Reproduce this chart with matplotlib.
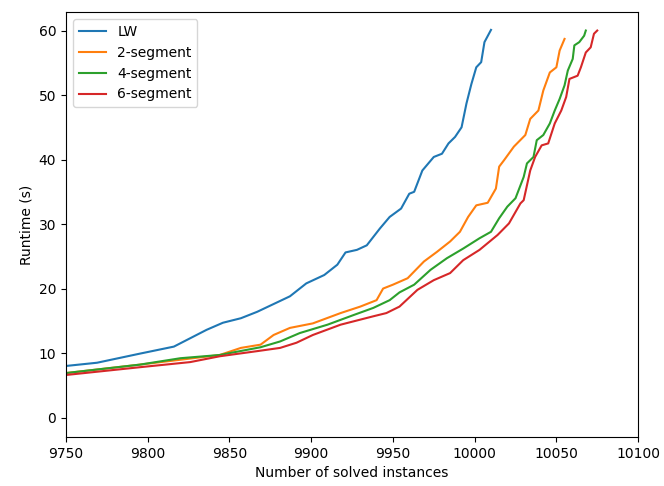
import matplotlib
matplotlib.use("Agg")
import matplotlib.pyplot as plt

lw_x = [9750, 9769, 9795, 9816, 9826, 9836, 9846, 9857, 9867, 9877, 9887, 9897, 9908, 9916,
        9921, 9928, 9934, 9942, 9948, 9955, 9960, 9963, 9968, 9975, 9980, 9984, 9988, 9992,
        9995, 9998, 10001, 10004, 10006, 10010]
lw_y = [8.0, 8.5, 9.9, 11.0, 12.3, 13.6, 14.7, 15.4, 16.4, 17.6, 18.8, 20.8, 22.1, 23.7,
        25.6, 26.0, 26.7, 29.3, 31.1, 32.4, 34.7, 35.0, 38.3, 40.4, 40.9, 42.5, 43.5, 45.0,
        48.7, 51.7, 54.3, 55.1, 58.2, 60.1]

seg2_x = [9750, 9795, 9844, 9857, 9869, 9877, 9887, 9901, 9918, 9930, 9940, 9944, 9950, 9959,
          9969, 9977, 9985, 9991, 9996, 10001, 10008, 10013, 10015, 10018, 10024, 10031, 10034,
          10039, 10042, 10046, 10050, 10052, 10055]
seg2_y = [6.9, 8.2, 9.7, 10.8, 11.3, 12.8, 13.9, 14.6, 16.2, 17.2, 18.2, 20.0, 20.6, 21.6,
          24.2, 25.7, 27.3, 28.8, 31.1, 32.9, 33.3, 35.5, 38.9, 39.9, 42.0, 43.8, 46.3,
          47.6, 50.7, 53.5, 54.3, 56.9, 58.7]

seg4_x = [9750, 9795, 9820, 9844, 9869, 9881, 9893, 9910, 9926, 9938, 9948, 9954, 9963, 9973,
          9983, 9993, 10003, 10010, 10015, 10020, 10025, 10030, 10032, 10036, 10038, 10042,
          10046, 10049, 10052, 10055, 10057, 10060, 10061, 10064, 10067, 10068]
seg4_y = [6.9, 8.2, 9.2, 9.7, 10.9, 11.8, 13.1, 14.4, 15.9, 17.0, 18.2, 19.4, 20.6, 22.9,
          24.7, 26.2, 27.8, 28.8, 30.9, 32.7, 34.0, 37.3, 39.4, 40.4, 43.0, 43.8,
          45.6, 47.6, 49.4, 51.5, 53.8, 55.6, 57.7, 58.2, 59.2, 60.0]

seg6_x = [9750, 9795, 9826, 9844, 9867, 9881, 9891, 9901, 9918, 9938, 9946, 9954, 9965, 9975,
          9985, 9993, 10003, 10014, 10021, 10028, 10030, 10034, 10037, 10041, 10045, 10049,
          10053, 10056, 10058, 10063, 10065, 10068, 10071, 10073, 10075]
seg6_y = [6.6, 7.8, 8.6, 9.5, 10.3, 10.8, 11.6, 12.8, 14.4, 15.7, 16.2, 17.2, 19.8, 21.3,
          22.4, 24.4, 26.0, 28.3, 30.1, 33.2, 33.7, 38.3, 40.4, 42.2, 42.5, 45.6,
          47.6, 49.7, 52.5, 53.0, 54.3, 56.6, 57.4, 59.5, 60.0]

labels = ["LW", "2-segment", "4-segment", "6-segment"]

fig = plt.figure(figsize=(6.64, 4.86), dpi=100)
ax = fig.add_subplot(111)
fig.subplots_adjust(left=0.0994, right=0.961, top=0.975, bottom=0.101)

ax.plot(lw_x, lw_y, label=labels[0])
ax.plot(seg2_x, seg2_y, label=labels[1])
ax.plot(seg4_x, seg4_y, label=labels[2])
ax.plot(seg6_x, seg6_y, label=labels[3])

ax.set_xlim(9750, 10100)
ax.set_ylim(-3, 62.85)
ax.set_xlabel("Number of solved instances")
ax.set_ylabel("Runtime (s)")
ax.legend(loc="upper left")

fig.savefig("out.png", dpi=100)
